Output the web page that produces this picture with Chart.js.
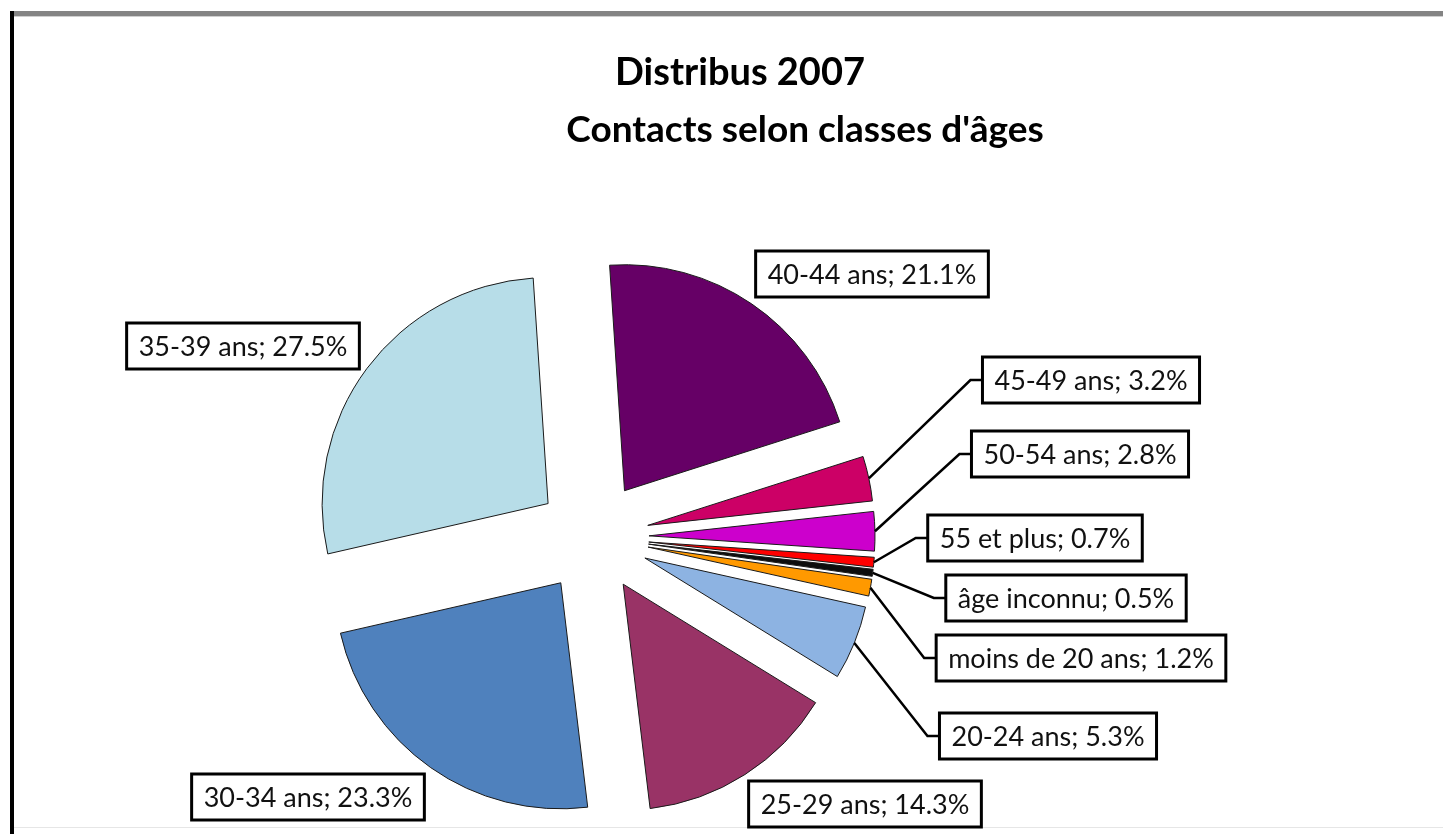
<!DOCTYPE html>
<html>
<head>
<meta charset="utf-8">
<title>Distribus 2007</title>
<script src="https://cdn.jsdelivr.net/npm/chart.js@4.4.1/dist/chart.umd.min.js"></script>
<style>
  html, body { margin: 0; padding: 0; background: #fff; }
  #wrap { width: 1443px; height: 834px; }
</style>
</head>
<body>
<div id="wrap"><canvas id="chart" width="1443" height="834"></canvas></div>
<script>
const titre1 = "Distribus 2007";
const titre2 = "Contacts selon classes d'âges";

const categories = ["moins de 20 ans", "20-24 ans", "25-29 ans", "30-34 ans", "35-39 ans",
                    "40-44 ans", "45-49 ans", "50-54 ans", "55 et plus", "âge inconnu"];
const pourcentages = [1.2, 5.3, 14.3, 23.3, 27.5, 21.1, 3.2, 2.8, 0.7, 0.5];
const couleurs = ["#FF9900", "#8DB3E2", "#993366", "#4F81BD", "#B7DDE8",
                  "#660066", "#CC0066", "#CC00CC", "#FF0000", "#0D0D0D"];

// centre des étiquettes, relatif au centre du camembert
const posEtiquettes = [[488, 121], [455, 199], [272, 267], [-285, 260], [-350, -191],
                       [279, -263], [498, -157], [487, -83], [442, 1], [473, 61]];

const ECLATEMENT = 56;   // éclatement des parts
const RAYON = 226;

// décale chaque part le long de sa bissectrice (camembert éclaté)
const eclatement = {
  id: 'eclatement',
  afterDatasetsUpdate(chart) {
    chart.getDatasetMeta(0).data.forEach(arc => {
      const mid = (arc.startAngle + arc.endAngle) / 2;
      arc.x += Math.cos(mid) * ECLATEMENT;
      arc.y += Math.sin(mid) * ECLATEMENT;
    });
  }
};

// cadre + titre
const cadre = {
  id: 'cadre',
  beforeDraw(chart) {
    const ctx = chart.ctx;
    const w = chart.width, h = chart.height;
    ctx.save();
    ctx.fillStyle = '#fff';
    ctx.fillRect(0, 0, w, h);
    ctx.fillStyle = '#848484';
    ctx.fillRect(10, 11, w - 10, 5);
    ctx.fillStyle = '#cfcfcf';
    ctx.fillRect(14, 16, w - 14, 1);
    ctx.fillStyle = '#000';
    ctx.fillRect(10, 11, 4, h - 11);
    ctx.fillStyle = '#e6e6e6';
    ctx.fillRect(14, 827, w - 14, 1);

    ctx.fillStyle = '#000';
    ctx.textAlign = 'center';
    ctx.textBaseline = 'alphabetic';
    ctx.font = 'bold 38px Lato';
    ctx.fillText(titre1, 740, 85);
    ctx.font = 'bold 37px Lato';
    ctx.fillText(titre2, 805, 142);
    ctx.restore();
  }
};

// étiquettes encadrées avec lignes de repère
const etiquettes = {
  id: 'etiquettes',
  afterDatasetsDraw(chart) {
    const ctx = chart.ctx;
    const ca = chart.chartArea;
    const cx = (ca.left + ca.right) / 2;
    const cy = (ca.top + ca.bottom) / 2;
    ctx.save();
    ctx.font = '27px Lato';
    ctx.textAlign = 'center';
    ctx.textBaseline = 'middle';
    chart.getDatasetMeta(0).data.forEach((arc, i) => {
      const texte = categories[i] + '; ' + pourcentages[i].toFixed(1) + '%';
      const bx = cx + posEtiquettes[i][0];
      const by = cy + posEtiquettes[i][1];
      const bw = ctx.measureText(texte).width + 24;
      const bh = 46;
      const gauche = bx - bw / 2;
      const mid = (arc.startAngle + arc.endAngle) / 2;
      const px = arc.x + Math.cos(mid) * arc.outerRadius;
      const py = arc.y + Math.sin(mid) * arc.outerRadius;

      if (gauche - px > 20) {
        ctx.strokeStyle = '#000';
        ctx.lineWidth = 2.5;
        ctx.beginPath();
        ctx.moveTo(px, py);
        ctx.lineTo(gauche - 12, by);
        ctx.lineTo(gauche, by);
        ctx.stroke();
      }
      ctx.fillStyle = '#fff';
      ctx.fillRect(gauche, by - bh / 2, bw, bh);
      ctx.strokeStyle = '#000';
      ctx.lineWidth = 3;
      ctx.strokeRect(gauche, by - bh / 2, bw, bh);
      ctx.fillStyle = '#111';
      ctx.fillText(texte, bx, by + 1);
    });
    ctx.restore();
  }
};

new Chart(document.getElementById('chart'), {
  type: 'pie',
  data: {
    labels: categories,
    datasets: [{
      data: pourcentages,
      backgroundColor: couleurs,
      borderColor: '#1a1a1a',
      borderWidth: 1,
      radius: RAYON
    }]
  },
  options: {
    responsive: false,
    animation: false,
    events: [],
    rotation: 98.2,
    layout: { padding: { left: 367, right: 624, top: 311, bottom: 71 } },
    plugins: {
      legend: { display: false },
      tooltip: { enabled: false },
      title: { display: false }
    }
  },
  plugins: [cadre, eclatement, etiquettes]
});
</script>
</body>
</html>
